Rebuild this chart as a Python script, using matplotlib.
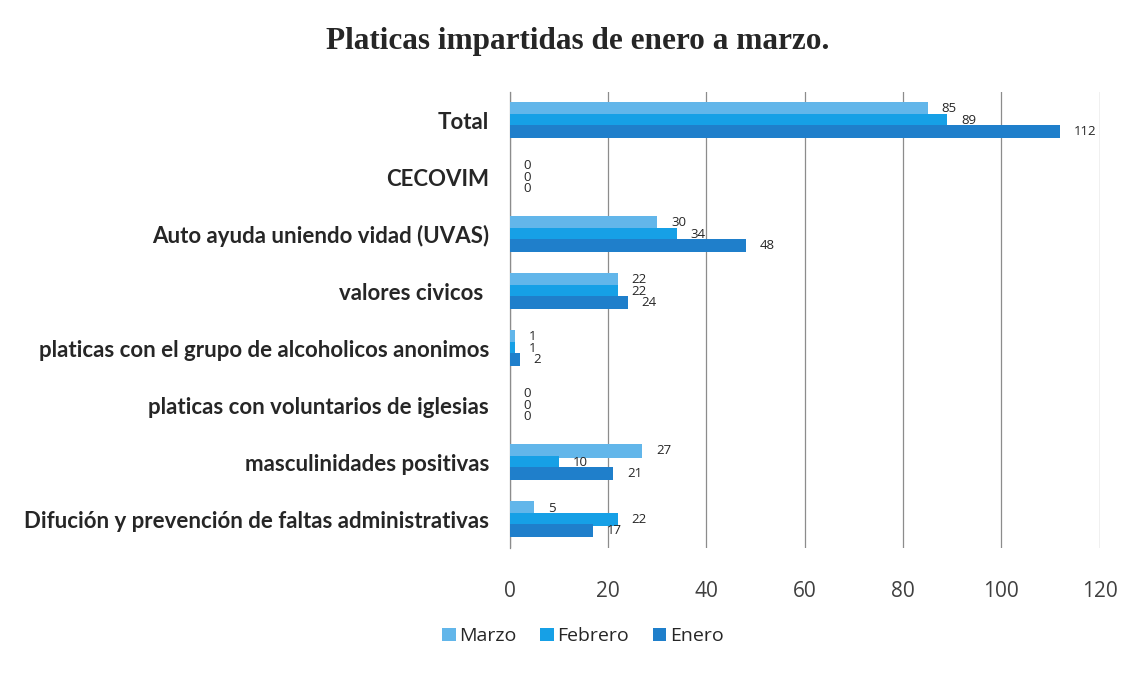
import matplotlib
matplotlib.use("Agg")
import matplotlib.pyplot as plt
import numpy as np

categories = ["Total", "CECOVIM", "Auto ayuda uniendo vidad (UVAS)", "valores civicos ",
              "platicas con el grupo de alcoholicos anonimos", "platicas con voluntarios de iglesias",
              "masculinidades positivas", "Difución y prevención de faltas administrativas"]
series_names = ["Marzo", "Febrero", "Enero"]
marzo = [85, 0, 30, 22, 1, 0, 27, 5]
febrero = [89, 0, 34, 22, 1, 0, 10, 22]
enero = [112, 0, 48, 24, 2, 0, 21, 17]
x_ticks = [0, 20, 40, 60, 80, 100, 120]

colors = ["#62b6ea", "#16a0e6", "#1f7fcb"]
values = [marzo, febrero, enero]
offsets = [-0.2, 0.0, 0.2]

fig = plt.figure(figsize=(11.43, 6.74), dpi=100)
ax = fig.add_axes([0.446, 0.187, 0.516, 0.677])

y = np.arange(len(categories))
for vals, col, off, name in zip(values, colors, offsets, series_names):
    bars = ax.barh(y + off, vals, height=0.23, color=col, label=name, zorder=3)
    for b, v in zip(bars, vals):
        ax.annotate(str(v), (b.get_width(), b.get_y() + b.get_height() / 2),
                    xytext=(10, 0), textcoords="offset points",
                    ha="left", va="center", fontsize=9.5, family="Open Sans",
                    color="#262626", zorder=4)

ax.set_xlim(0, 120)
ax.set_ylim(len(categories) - 0.5, -0.5)
ax.set_xticks(x_ticks)
ax.set_yticks(y)
ax.set_yticklabels(categories, fontsize=16, family="Lato", fontweight="bold", color="#262626")
for lbl in ax.get_xticklabels():
    lbl.set_fontsize(15)
    lbl.set_family("Open Sans")
    lbl.set_color("#404040")
ax.tick_params(axis="x", length=0, pad=24)
ax.tick_params(axis="y", length=0, pad=15)
ax.grid(axis="x", color="#8c8c8c", linewidth=0.9, zorder=0)
for s in ["top", "right", "bottom"]:
    ax.spines[s].set_visible(False)
ax.spines["left"].set_color("#8c8c8c")
ax.spines["left"].set_linewidth(0.9)

fig.text(0.505, 0.938, "Platicas impartidas de enero a marzo.", ha="center", va="center",
         fontsize=22.5, family="Liberation Serif", fontweight="bold", color="#262626")

handles, labels = ax.get_legend_handles_labels()
leg = fig.legend(handles, labels, loc="center", bbox_to_anchor=(0.51, 0.056), ncol=3,
                 frameon=False, prop={"family": "Open Sans", "size": 14},
                 handlelength=0.7, handleheight=0.7, handletextpad=0.2, columnspacing=1.2)
for t in leg.get_texts():
    t.set_color("#262626")

fig.savefig("out.png", dpi=100, facecolor="white")
